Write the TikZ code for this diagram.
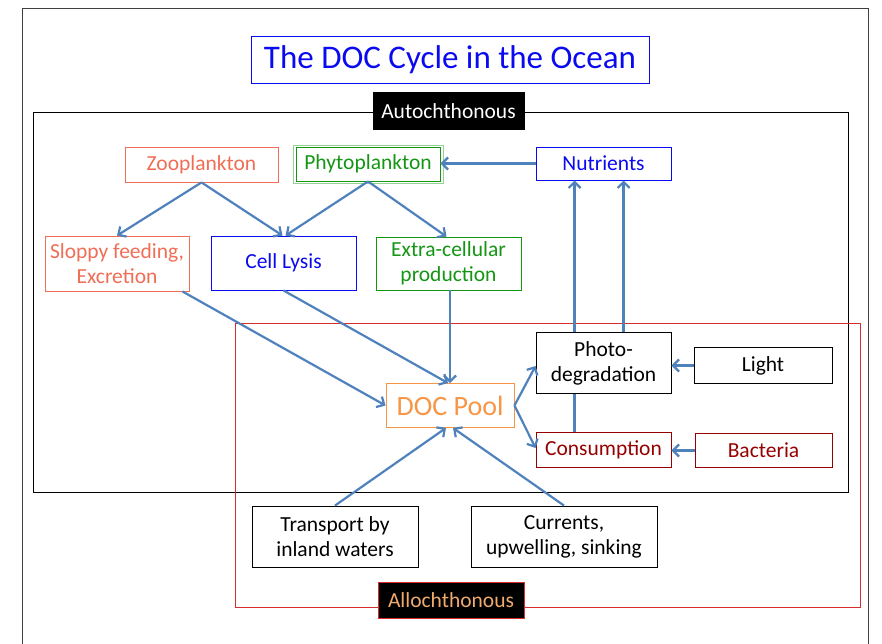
\documentclass[tikz,border=0pt]{standalone}
\usepackage{fontspec}
\setmainfont{Carlito}
\usetikzlibrary{arrows.meta}
\definecolor{tblue}{RGB}{10,10,240}
\definecolor{salmon}{RGB}{240,110,85}
\definecolor{tgreen}{RGB}{20,150,20}
\definecolor{lgreen}{RGB}{150,210,150}
\definecolor{torange}{RGB}{247,150,70}
\definecolor{tdred}{RGB}{150,0,0}
\definecolor{arrowblue}{RGB}{79,129,189}
\definecolor{alltext}{RGB}{240,170,110}
\definecolor{framered}{RGB}{215,45,45}
\begin{document}
\begin{tikzpicture}[x=1pt,y=-1pt,
  box/.style={draw, rectangle, inner sep=0pt, align=center, fill=white,
    font=\fontsize{21.5}{25}\selectfont, line width=0.9pt},
  conn/.style={draw=arrowblue, line width=2.2pt, -{Straight Barb[length=6pt,width=12pt]}},
  plain/.style={draw=arrowblue, line width=2.2pt}]
\useasboundingbox (0,0) rectangle (882,644);
% outer frame
\draw[black!75, line width=1pt] (22,644) -- (22,9) -- (868,9) -- (868,644);
% title
\node[box, draw=tblue, text=tblue, minimum width=398pt, minimum height=47pt,
  font=\fontsize{33}{37}\selectfont] (title) at (450,59.5) {The DOC Cycle in the Ocean};
% frames
\draw[black, line width=1pt] (33,113) rectangle (848,492);
\draw[framered, line width=1pt] (235,323) rectangle (860,607);
\node[box, fill=black, text=white, minimum width=151pt, minimum height=37pt] (auto) at (448.5,111) {Autochthonous};
\node[box, fill=black, draw=framered, text=alltext, minimum width=146pt, minimum height=36pt] (alloch) at (451,600) {Allochthonous};
% nodes
\node[box, draw=salmon, text=salmon, minimum width=153pt, minimum height=35pt] (zoo) at (201.5,164.5) {Zooplankton};
\draw[lgreen, line width=1pt] (293,146) rectangle (443,184);
\node[box, draw=tgreen, text=tgreen, minimum width=144pt, minimum height=34pt] (phyto) at (368,164) {Phytoplankton};
\node[box, draw=tblue, text=tblue, minimum width=135pt, minimum height=33pt] (nutr) at (603.5,163.5) {Nutrients};
\node[box, draw=salmon, text=salmon, minimum width=144pt, minimum height=55pt] (sloppy) at (117,263.5) {Sloppy feeding,\\Excretion};
\node[box, draw=tblue, text=tblue, minimum width=145pt, minimum height=54pt] (lysis) at (283.5,263) {Cell Lysis};
\node[box, draw=tgreen, text=tgreen, minimum width=145pt, minimum height=53pt] (extra) at (448.5,263.5) {Extra-cellular\\production};
\node[box, draw=black, minimum width=135pt, minimum height=61pt] (photo) at (603.5,363) {Photo-\\degradation};
\node[box, draw=black, minimum width=138pt, minimum height=36pt] (light) at (763,365.5) {Light};
\node[box, draw=torange, text=torange, minimum width=128pt, minimum height=44pt,
  font=\fontsize{28}{31}\selectfont] (doc) at (450,405.5) {DOC Pool};
\node[box, draw=tdred, text=tdred, minimum width=135pt, minimum height=35pt] (cons) at (603.5,450) {Consumption};
\node[box, draw=tdred, text=tdred, minimum width=137pt, minimum height=34pt] (bact) at (763.5,450.5) {Bacteria};
\node[box, draw=black, minimum width=166pt, minimum height=61pt] (trans) at (335,536.5) {Transport by\\inland waters};
\node[box, draw=black, minimum width=186pt, minimum height=61pt] (curr) at (564,536.5) {Currents,\\upwelling, sinking};
% connectors
\draw[conn] (zoo.south) -- (sloppy.north);
\draw[conn] (zoo.south) -- ([xshift=-1pt]lysis.north);
\draw[conn] (phyto.south) -- ([xshift=2pt]lysis.north);
\draw[conn] (phyto.south) -- ([xshift=-2pt]extra.north);
\draw[conn] (nutr.west) -- (phyto.east |- nutr.west);
\draw[conn] ([xshift=-7pt]sloppy.south east) -- (doc.west);
\draw[conn] (lysis.south) -- ([xshift=-2pt]doc.north);
\draw[conn] ([xshift=1.5pt]extra.south) -- (doc.north);
\draw[conn] (trans.north) -- ([xshift=-4pt]doc.south);
\draw[conn] (curr.north) -- ([xshift=3pt]doc.south);
\draw[conn] (doc.east) -- ([yshift=-3pt]photo.west);
\draw[conn] (doc.east) -- ([yshift=2pt]cons.west);
\draw[conn] (light.west) -- (photo.east |- light.west);
\draw[conn] (bact.west) -- (cons.east |- bact.west);
\draw[plain] ([xshift=39pt]cons.north west) -- ([xshift=39pt]photo.south west);
\draw[conn] ([xshift=39pt]photo.north west) -- ([xshift=39pt]nutr.south west);
\draw[conn] ([xshift=88pt]photo.north west) -- ([xshift=88pt]nutr.south west);
\end{tikzpicture}
\end{document}
